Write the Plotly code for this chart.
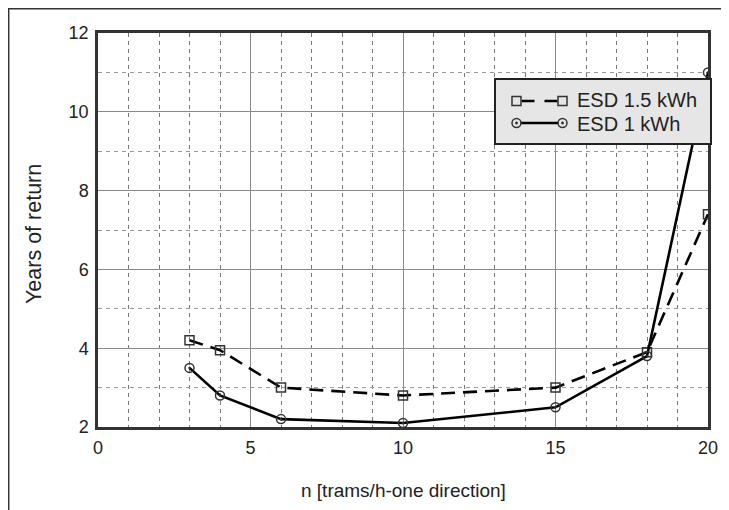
import plotly.graph_objects as go

n_15 = [3, 4, 6, 10, 15, 18, 20]
esd_15 = [4.2, 3.95, 3.0, 2.8, 3.0, 3.9, 7.4]
n_1 = [3, 4, 6, 10, 15, 18, 20]
esd_1 = [3.5, 2.8, 2.2, 2.1, 2.5, 3.8, 11.0]
series_names = ["ESD 1.5 kWh", "ESD 1 kWh"]
x_title = "n [trams/h-one direction]"
y_title = "Years of return"

OFF = 8  # page body offset
W, H = 729 - OFF, 510 - OFF
L, T = 98 - OFF, 33 - OFF
pw, ph = 708 - 98, 427 - 33
R, B = W - L - pw, H - T - ph


def px(sx):
    return (sx - OFF - L) / pw


def py(sy):
    return 1 - (sy - OFF - T) / ph


FAM = "Liberation Sans, Arial, sans-serif"
INK = "#222"

fig = go.Figure()
fig.add_trace(go.Scatter(
    x=n_15, y=esd_15, name=series_names[0], mode="lines+markers",
    line=dict(color="black", width=2.6, dash="14px,8px"),
    marker=dict(symbol="square-open", size=9, color="#333", line=dict(width=1.5)),
    showlegend=False,
))
fig.add_trace(go.Scatter(
    x=n_1, y=esd_1, name=series_names[1], mode="lines+markers",
    line=dict(color="black", width=2.6),
    marker=dict(symbol="circle-open-dot", size=9, color="#333", line=dict(width=1.5)),
    showlegend=False,
))

shapes = []
# outer frame (left and top edges)
shapes.append(dict(type="path", xref="paper", yref="paper",
                   path=f"M {px(8.7)} {py(520)} L {px(8.7)} {py(8.7)} L {px(740)} {py(8.7)}",
                   line=dict(color="#333", width=1.5)))
# legend box
shapes.append(dict(type="rect", xref="paper", yref="paper",
                   x0=px(495), x1=px(711), y0=py(79), y1=py(144),
                   fillcolor="#e6e6e6", line=dict(color="#222", width=2), layer="above"))
r1, r2 = 101, 123
xa, xb = 516.5, 562.5
# dashed line sample
shapes.append(dict(type="line", xref="paper", yref="paper",
                   x0=px(xa + 5), x1=px(xb - 5), y0=py(r1), y1=py(r1),
                   line=dict(color="black", width=2.6, dash="13px,10px"), layer="above"))
# solid line sample
shapes.append(dict(type="line", xref="paper", yref="paper",
                   x0=px(xa + 4), x1=px(xb - 4), y0=py(r2), y1=py(r2),
                   line=dict(color="black", width=2.6), layer="above"))
for cx in (xa, xb):
    shapes.append(dict(type="rect", xref="paper", yref="paper",
                       x0=px(cx - 4.5), x1=px(cx + 4.5), y0=py(r1 - 4.5), y1=py(r1 + 4.5),
                       fillcolor="rgba(0,0,0,0)", line=dict(color="#333", width=1.5), layer="above"))
    shapes.append(dict(type="circle", xref="paper", yref="paper",
                       x0=px(cx - 4.5), x1=px(cx + 4.5), y0=py(r2 - 4.5), y1=py(r2 + 4.5),
                       fillcolor="rgba(0,0,0,0)", line=dict(color="#333", width=1.5), layer="above"))
    shapes.append(dict(type="circle", xref="paper", yref="paper",
                       x0=px(cx - 1.2), x1=px(cx + 1.2), y0=py(r2 - 1.2), y1=py(r2 + 1.2),
                       fillcolor="#333", line=dict(color="#333", width=0.5), layer="above"))

annotations = [
    dict(text=series_names[0], xref="paper", yref="paper", x=px(575), y=py(100),
         xanchor="left", yanchor="middle", showarrow=False,
         font=dict(family=FAM, size=20, color=INK)),
    dict(text=series_names[1], xref="paper", yref="paper", x=px(575), y=py(124),
         xanchor="left", yanchor="middle", showarrow=False,
         font=dict(family=FAM, size=20, color=INK)),
    dict(text=x_title, xref="paper", yref="paper", x=px(403), y=py(490),
         xanchor="center", yanchor="middle", showarrow=False,
         font=dict(family=FAM, size=19, color=INK)),
    dict(text=y_title, xref="paper", yref="paper", x=px(34), y=py(234),
         xanchor="center", yanchor="middle", showarrow=False, textangle=-90,
         font=dict(family=FAM, size=21.5, color=INK)),
]

fig.update_layout(
    width=W, height=H,
    margin=dict(l=L, r=R, t=T, b=B, autoexpand=False),
    paper_bgcolor="white", plot_bgcolor="white",
    font=dict(family=FAM, size=18, color=INK),
    showlegend=False,
    xaxis=dict(
        range=[0, 20], dtick=5, tick0=0,
        showgrid=True, gridcolor="#8a8a8a", gridwidth=1,
        minor=dict(dtick=1, showgrid=True, gridcolor="#7a7a7a", griddash="4px,4px", gridwidth=1),
        showline=True, linecolor="#333", linewidth=2.5, mirror=True,
        ticks="outside", ticklen=3, tickcolor="rgba(0,0,0,0)",
        zeroline=False, automargin=False,
    ),
    yaxis=dict(
        range=[2, 12], dtick=2, tick0=0,
        showgrid=True, gridcolor="#8a8a8a", gridwidth=1,
        minor=dict(dtick=1, showgrid=True, gridcolor="#999", griddash="4px,4px", gridwidth=1),
        showline=True, linecolor="#333", linewidth=2.5, mirror=True,
        ticks="outside", ticklen=3, tickcolor="rgba(0,0,0,0)",
        zeroline=False, automargin=False,
    ),
    shapes=shapes,
    annotations=annotations,
)

fig.write_html("out.html")
